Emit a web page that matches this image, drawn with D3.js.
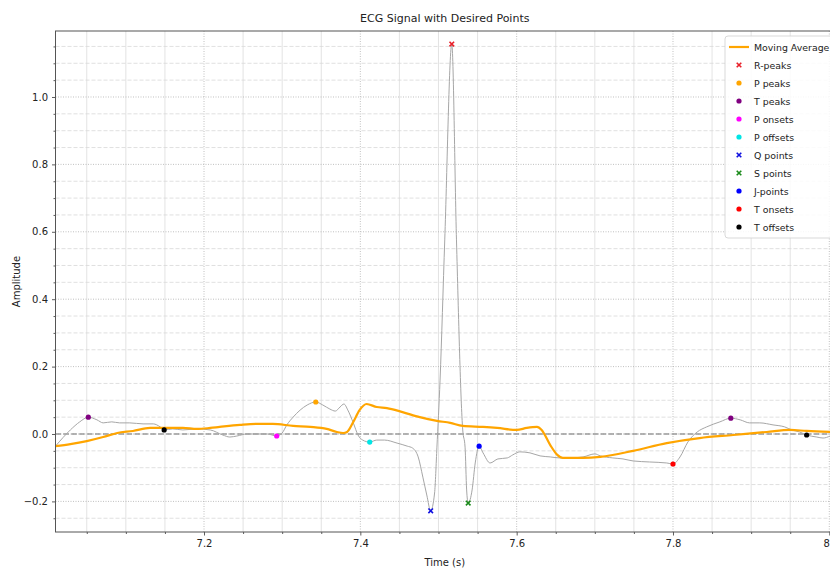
<!DOCTYPE html>
<html>
<head>
<meta charset="utf-8">
<script src="https://cdn.jsdelivr.net/npm/d3@7"></script>
<style>
  body { margin: 0; background: #fff; }
  svg { display: block; font-family: "DejaVu Sans", sans-serif; }
</style>
</head>
<body>
<div id="chart"></div>
<script>
// ECG signal samples (time in s, amplitude)
var ecgTime = [7.010, 7.029, 7.041, 7.052, 7.063, 7.071, 7.082, 7.092, 7.105, 7.122, 7.135, 7.144, 7.149,
  7.160, 7.173, 7.191, 7.208, 7.224, 7.233, 7.242, 7.255, 7.268, 7.281, 7.293, 7.300, 7.306, 7.314, 7.323,
  7.332, 7.343, 7.352, 7.361, 7.368, 7.374, 7.379, 7.384, 7.391, 7.397, 7.403, 7.412, 7.421, 7.431, 7.447,
  7.460, 7.467, 7.474, 7.480, 7.485, 7.490, 7.495, 7.498, 7.502, 7.508, 7.517, 7.523, 7.531, 7.534, 7.536,
  7.538, 7.543, 7.547, 7.552, 7.557, 7.566, 7.576, 7.588, 7.595, 7.604, 7.617, 7.630, 7.643, 7.655, 7.668,
  7.685, 7.700, 7.707, 7.723, 7.736, 7.749, 7.770, 7.792, 7.800, 7.809, 7.819, 7.831, 7.843, 7.860, 7.874,
  7.886, 7.898, 7.911, 7.928, 7.943, 7.952, 7.962, 7.971, 7.984, 7.992, 8.001, 8.006];
var ecgAmp = [-0.036, 0.012, 0.036, 0.050, 0.042, 0.033, 0.036, 0.033, 0.033, 0.030, 0.030, 0.021, 0.012,
  0.015, 0.012, 0.015, 0.012, -0.003, -0.009, -0.006, 0.000, 0.000, 0.000, -0.006, 0.003, 0.027, 0.050, 0.071,
  0.086, 0.095, 0.086, 0.074, 0.068, 0.080, 0.089, 0.071, 0.033, -0.003, -0.018, -0.024, -0.018, -0.018, -0.027,
  -0.036, -0.042, -0.068, -0.128, -0.181, -0.228, -0.175, -0.039, 0.160, 0.576, 1.157, 0.576, 0.012, -0.039, -0.166,
  -0.205, -0.166, -0.086, -0.036, -0.056, -0.086, -0.074, -0.071, -0.062, -0.053, -0.056, -0.065, -0.068, -0.071, -0.071,
  -0.068, -0.059, -0.065, -0.071, -0.074, -0.080, -0.083, -0.086, -0.089, -0.068, -0.024, 0.006, 0.021, 0.036, 0.047,
  0.042, 0.033, 0.033, 0.027, 0.021, 0.012, 0.006, -0.003, -0.009, -0.012, -0.006, 0.000];

// Moving average
var maTime = [7.010, 7.029, 7.050, 7.071, 7.089, 7.109, 7.131, 7.147, 7.173, 7.191, 7.208, 7.220, 7.246,
  7.268, 7.288, 7.314, 7.336, 7.357, 7.370, 7.378, 7.383, 7.391, 7.399, 7.408, 7.421, 7.434, 7.454, 7.476,
  7.498, 7.515, 7.531, 7.557, 7.575, 7.600, 7.613, 7.626, 7.632, 7.643, 7.652, 7.659, 7.685, 7.707, 7.749,
  7.792, 7.834, 7.877, 7.920, 7.950, 7.971, 8.006];
var maAmp = [-0.036, -0.030, -0.021, -0.009, 0.003, 0.009, 0.018, 0.018, 0.018, 0.015, 0.018, 0.021, 0.027,
  0.030, 0.030, 0.024, 0.021, 0.015, 0.006, 0.003, 0.006, 0.036, 0.071, 0.089, 0.080, 0.077, 0.065, 0.050,
  0.039, 0.033, 0.024, 0.021, 0.018, 0.012, 0.018, 0.021, 0.012, -0.033, -0.062, -0.071, -0.071, -0.068, -0.050,
  -0.027, -0.012, -0.003, 0.006, 0.012, 0.009, 0.006];

// detected points
var rPeaks = { t: [7.517], a: [1.157] };
var pPeaks = { t: [7.343], a: [0.095] };
var tPeaks = { t: [7.052, 7.874], a: [0.050, 0.047] };
var pOnsets = { t: [7.293], a: [-0.006] };
var pOffsets = { t: [7.412], a: [-0.024] };
var qPoints = { t: [7.490], a: [-0.228] };
var sPoints = { t: [7.538], a: [-0.205] };
var jPoints = { t: [7.552], a: [-0.036] };
var tOnsets = { t: [7.800], a: [-0.089] };
var tOffsets = { t: [7.149, 7.971], a: [0.012, -0.003] };

var xTicks = [7.2, 7.4, 7.6, 7.8, 8.0];
var xTickLabels = ["7.2", "7.4", "7.6", "7.8", "8"];
var yTicks = [-0.2, 0.0, 0.2, 0.4, 0.6, 0.8, 1.0];

var pointSets = [
  { name: "R-peaks", d: rPeaks, color: "#e8202a", shape: "x" },
  { name: "P peaks", d: pPeaks, color: "#ffa500", shape: "o" },
  { name: "T peaks", d: tPeaks, color: "#800080", shape: "o" },
  { name: "P onsets", d: pOnsets, color: "#ff00ff", shape: "o" },
  { name: "P offsets", d: pOffsets, color: "#00e5e5", shape: "o" },
  { name: "Q points", d: qPoints, color: "#1010e0", shape: "x" },
  { name: "S points", d: sPoints, color: "#1a8a1a", shape: "x" },
  { name: "J-points", d: jPoints, color: "#0000ff", shape: "o" },
  { name: "T onsets", d: tOnsets, color: "#ff0000", shape: "o" },
  { name: "T offsets", d: tOffsets, color: "#000000", shape: "o" }
];

var W = 830, H = 569;
var pl = 55.5, pr = 834, pt = 31, pb = 532;

var svg = d3.select("#chart").append("svg")
  .attr("width", W).attr("height", H);

var x = d3.scaleLinear().domain([7.010, 8.006]).range([pl, pr]);
var y = d3.scaleLinear().domain([-0.2908, 1.1958]).range([pb, pt]);

// grid: minor first, then major
var xMinor = d3.range(7.05, 8.01, 0.05).filter(v => xTicks.every(t => Math.abs(t - v) > 1e-6));
var yMinor = d3.range(-0.25, 1.2, 0.05).filter(v => yTicks.every(t => Math.abs(t - v) > 1e-6));

var grid = svg.append("g");
grid.selectAll(".vminor").data(xMinor).enter().append("line")
  .attr("x1", d => x(d)).attr("x2", d => x(d)).attr("y1", pt).attr("y2", pb)
  .attr("stroke", "#dcdcdc").attr("stroke-width", 0.8);
grid.selectAll(".hminor").data(yMinor).enter().append("line")
  .attr("y1", d => y(d)).attr("y2", d => y(d)).attr("x1", pl).attr("x2", pr)
  .attr("stroke", "#d8d8d8").attr("stroke-width", 0.8).attr("stroke-dasharray", "4,2");
grid.selectAll(".vmajor").data(xTicks).enter().append("line")
  .attr("x1", d => x(d)).attr("x2", d => x(d)).attr("y1", pt).attr("y2", pb)
  .attr("stroke", "#b0b0b0").attr("stroke-width", 0.8).attr("stroke-dasharray", "1,1.5");
grid.selectAll(".hmajor").data(yTicks).enter().append("line")
  .attr("y1", d => y(d)).attr("y2", d => y(d)).attr("x1", pl).attr("x2", pr)
  .attr("stroke", "#b0b0b0").attr("stroke-width", 0.8).attr("stroke-dasharray", "1,1.5");

svg.append("clipPath").attr("id", "clip")
  .append("rect").attr("x", pl).attr("y", pt).attr("width", pr - pl).attr("height", pb - pt);

var plot = svg.append("g").attr("clip-path", "url(#clip)");

// zero line
plot.append("line")
  .attr("x1", pl).attr("x2", pr).attr("y1", y(0)).attr("y2", y(0))
  .attr("stroke", "#9a9a9a").attr("stroke-width", 1.5).attr("stroke-dasharray", "5.5,2.4");

var line = d3.line().curve(d3.curveMonotoneX)
  .x(d => x(d[0])).y(d => y(d[1]));

plot.append("path")
  .datum(d3.zip(ecgTime, ecgAmp))
  .attr("d", line)
  .attr("fill", "none").attr("stroke", "#a6a6a6").attr("stroke-width", 1);

plot.append("path")
  .datum(d3.zip(maTime, maAmp))
  .attr("d", line)
  .attr("fill", "none").attr("stroke", "#ffa500").attr("stroke-width", 2.2);

function drawMarker(g, cx, cy, shape, color) {
  if (shape === "x") {
    var s = 2.3;
    g.append("path")
      .attr("d", `M${cx - s},${cy - s}L${cx + s},${cy + s}M${cx - s},${cy + s}L${cx + s},${cy - s}`)
      .attr("stroke", color).attr("stroke-width", 1.6).attr("fill", "none");
  } else {
    g.append("circle").attr("cx", cx).attr("cy", cy).attr("r", 2.6).attr("fill", color);
  }
}

pointSets.forEach(function (p) {
  p.d.t.forEach(function (t, i) {
    drawMarker(plot, x(t), y(p.d.a[i]), p.shape, p.color);
  });
});

// axes
var fmt = d3.format(".1f");
var xAxis = svg.append("g").attr("transform", `translate(0,${pb})`)
  .call(d3.axisBottom(x).tickValues(xTicks).tickFormat((d, i) => xTickLabels[i]).tickSize(3.5).tickPadding(4));
var xAxisMinor = svg.append("g").attr("transform", `translate(0,${pb})`)
  .call(d3.axisBottom(x).tickValues(xMinor).tickFormat("").tickSize(2));
var yAxis = svg.append("g").attr("transform", `translate(${pl},0)`)
  .call(d3.axisLeft(y).tickValues(yTicks).tickFormat(fmt).tickSize(3.5).tickPadding(4));
var yAxisMinor = svg.append("g").attr("transform", `translate(${pl},0)`)
  .call(d3.axisLeft(y).tickValues(yMinor).tickFormat("").tickSize(2));

[xAxis, xAxisMinor, yAxis, yAxisMinor].forEach(function (a) {
  a.select(".domain").remove();
  a.selectAll(".tick line").attr("stroke", "#333").attr("stroke-width", 0.8);
  a.selectAll(".tick text").attr("fill", "#222").style("font-size", "10px")
    .style("font-family", "DejaVu Sans, sans-serif");
});
// last x label sits at the right edge
xAxis.selectAll(".tick text").filter((d, i) => i === xTicks.length - 1)
  .attr("text-anchor", "end").attr("dx", "0");

// frame
svg.append("rect")
  .attr("x", pl).attr("y", pt).attr("width", pr - pl).attr("height", pb - pt)
  .attr("fill", "none").attr("stroke", "#555").attr("stroke-width", 1);

// title and labels
svg.append("text").attr("x", (pl + pr) / 2).attr("y", 22)
  .attr("text-anchor", "middle").style("font-size", "11px").attr("fill", "#222")
  .text("ECG Signal with Desired Points");
svg.append("text").attr("x", (pl + pr) / 2).attr("y", 566)
  .attr("text-anchor", "middle").style("font-size", "10px").attr("fill", "#222")
  .text("Time (s)");
svg.append("text")
  .attr("transform", `translate(20,${(pt + pb) / 2}) rotate(-90)`)
  .attr("text-anchor", "middle").style("font-size", "10px").attr("fill", "#222")
  .text("Amplitude");

// legend
var lg = svg.append("g").attr("transform", "translate(725,36)");
lg.append("rect").attr("width", 112).attr("height", 202).attr("rx", 3)
  .attr("fill", "#fff").attr("fill-opacity", 0.85).attr("stroke", "#cfcfcf").attr("stroke-width", 0.8);
lg.append("line").attr("x1", 4).attr("x2", 24).attr("y1", 11).attr("y2", 11)
  .attr("stroke", "#ffa500").attr("stroke-width", 2.2);
lg.append("text").attr("x", 29).attr("y", 15).style("font-size", "9.4px").attr("fill", "#222")
  .text("Moving Average");
pointSets.forEach(function (p, i) {
  var yy = 29 + i * 18;
  drawMarker(lg, 14, yy, p.shape, p.color);
  lg.append("text").attr("x", 29).attr("y", yy + 4).style("font-size", "9.4px").attr("fill", "#222")
    .text(p.name);
});
</script>
</body>
</html>
